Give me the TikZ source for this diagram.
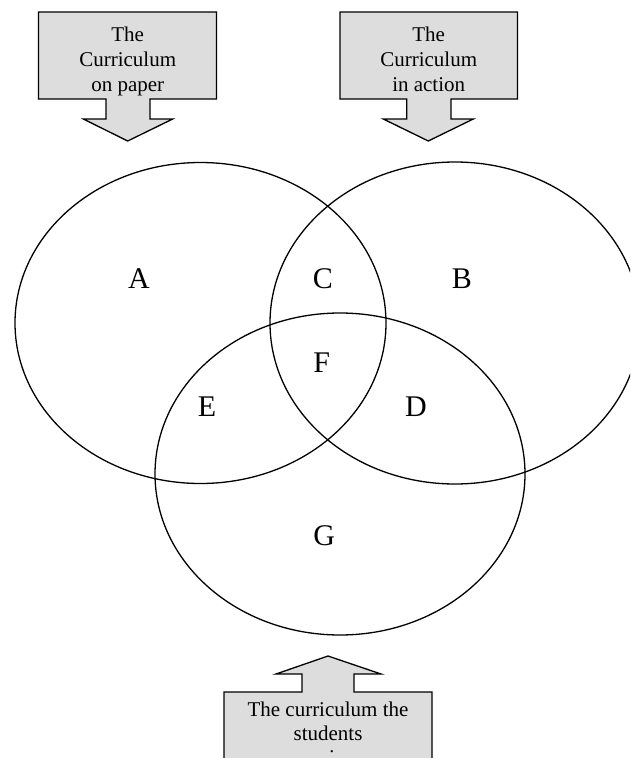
\documentclass[tikz,border=0pt]{standalone}
\usepackage{fontspec}
\setmainfont{Liberation Serif}
\usetikzlibrary{shapes.geometric}
\definecolor{calloutgray}{RGB}{221,221,221}
\begin{document}
\begin{tikzpicture}[x=1pt,y=-1pt,
  ring/.style={draw=black,line width=1.3pt,ellipse,inner sep=0pt,outer sep=0pt},
  callout/.style={draw=black,fill=calloutgray,line width=1.3pt,line join=miter},
  boxtext/.style={font=\fontsize{21}{24.5}\selectfont,inner sep=0pt,anchor=base},
  region/.style={font=\fontsize{30}{36}\selectfont,inner sep=0pt,anchor=base}]
\useasboundingbox (0,0) rectangle (630,758);
\clip (0,0) rectangle (630,758);
\fill[white] (0,0) rectangle (630,758);

% circles
\node[ring,minimum width=371pt,minimum height=321pt] (paper) at (200.5,323) {};
\node[ring,minimum width=370pt,minimum height=322pt] (action) at (455,323) {};
\node[ring,minimum width=370pt,minimum height=322pt] (students) at (340,474) {};

% callouts
\draw[callout] (38.5,12) -- (216.5,12) -- (216.5,99) -- (150,99) -- (150,119)
  -- (172.7,119) -- (127.7,141) -- (83.3,119) -- (106,119) -- (106,99)
  -- (38.5,99) -- cycle;
\draw[callout] (340,12) -- (517.5,12) -- (517.5,99) -- (451,99) -- (451,119)
  -- (473.3,119) -- (428.3,141) -- (383.3,119) -- (406.7,119) -- (406.7,99)
  -- (340,99) -- cycle;
\draw[callout] (224,692) -- (302,692) -- (302,674) -- (276,674) -- (328,656)
  -- (381,674) -- (354,674) -- (354,692) -- (432,692) -- (432,775)
  -- (224,775) -- cycle;

% callout texts
\node[boxtext] (p1) at (127.7,41.7) {The};
\node[boxtext] (p2) at (127.7,66.5) {Curriculum};
\node[boxtext] (p3) at (127.7,91) {on paper};
\node[boxtext] (a1) at (428.7,41.7) {The};
\node[boxtext] (a2) at (428.7,66.5) {Curriculum};
\node[boxtext] (a3) at (428.7,91) {in action};
\node[boxtext] (s1) at (328,716) {The curriculum the};
\node[boxtext] (s2) at (328,740) {students};
\begin{scope}
  \clip (224,692) rectangle (432,752.5);
  \node[boxtext] (s3) at (328,764) {experience};
\end{scope}

% region labels
\node[region] (A) at (139,288.3) {A};
\node[region] (C) at (323,288.3) {C};
\node[region] (B) at (462,288.3) {B};
\node[region] (F) at (321.7,372.7) {F};
\node[region] (E) at (207,416.7) {E};
\node[region] (D) at (416,416.7) {D};
\node[region] (G) at (324.3,545) {G};
\end{tikzpicture}
\end{document}
